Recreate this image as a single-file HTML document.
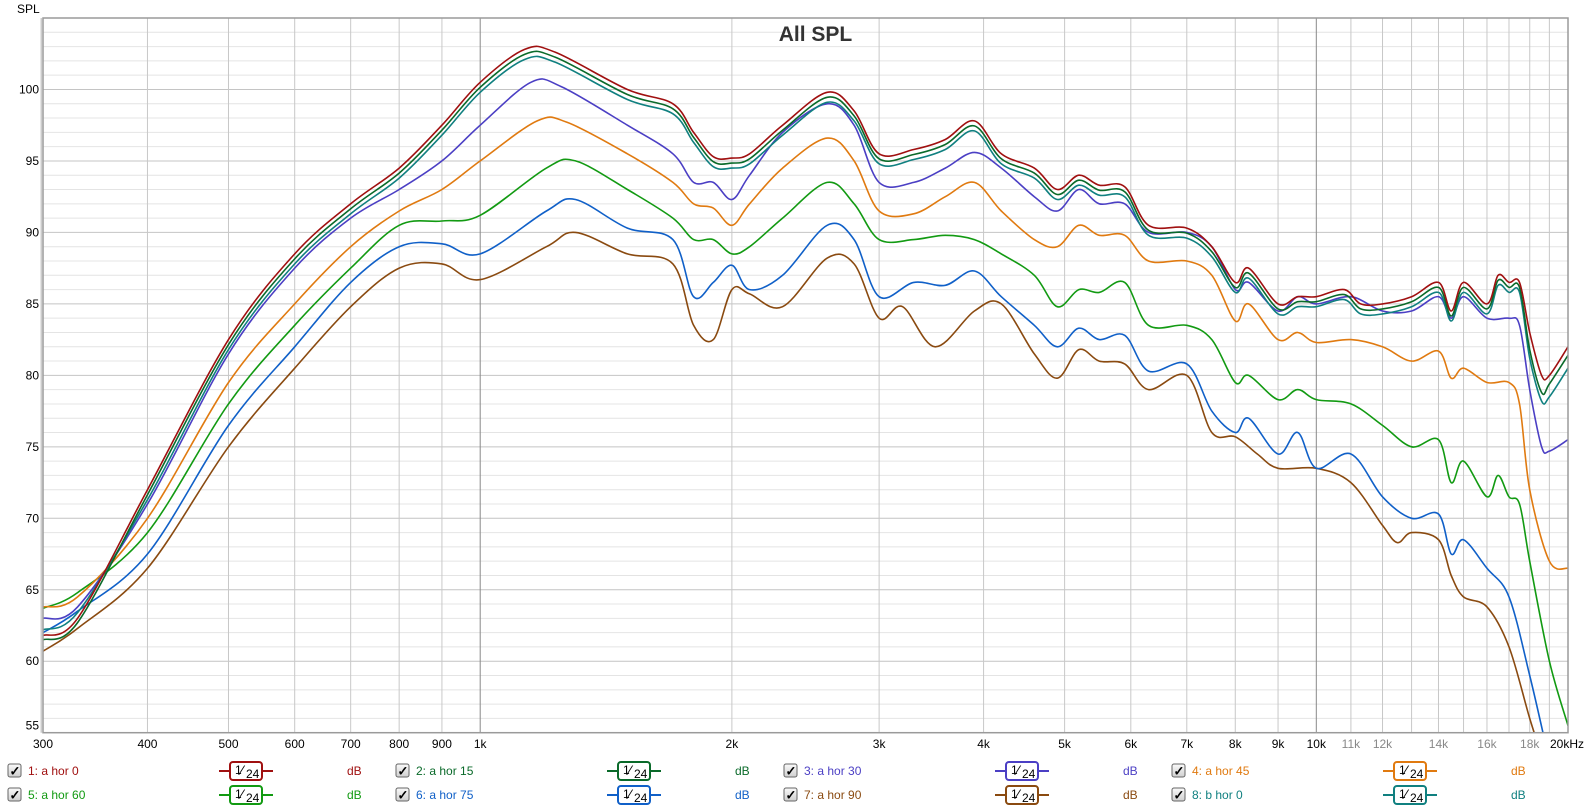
<!DOCTYPE html>
<html><head><meta charset="utf-8">
<style>
html,body{margin:0;padding:0;background:#fff;width:1590px;height:809px;overflow:hidden;font-family:"Liberation Sans",sans-serif;}
svg{position:absolute;left:0;top:0}
</style></head>
<body>
<svg id="s" width="1590" height="809" xmlns="http://www.w3.org/2000/svg" font-family="Liberation Sans, sans-serif"></svg>
<script>
const L=43,R=1568,T=18,B=732.7;
const dec=(R-L)/Math.log10(20000/300);
const X=f=>L+Math.log10(f/300)*dec;
const Y=d=>B-(d-55)*(B-T)/50;
let h='';
h+=`<rect x="${L}" y="${T}" width="${R-L}" height="${B-T}" fill="#fff"/>`;
for(let d=56;d<105;d++){h+=`<line x1="${L}" x2="${R}" y1="${Y(d)}" y2="${Y(d)}" stroke="${d%5==0?'#c4c4c4':'#e4e4e4'}" stroke-width="1"/>`;}
let fs=[];for(let f=400;f<=900;f+=100)fs.push(f);for(let f=1000;f<=19000;f+=1000)fs.push(f);
fs.forEach(f=>{h+=`<line x1="${X(f)}" x2="${X(f)}" y1="${T}" y2="${B}" stroke="${(f==1000||f==10000)?'#888':'#c8c8c8'}" stroke-width="1"/>`;});
const ser=[
['#a01010',[[300,61.8],[330,63],[400,72],[500,82.5],[600,88.5],[700,92],[800,94.5],[900,97.5],[1000,100.5],[1130,102.8],[1230,102.6],[1500,100],[1700,99],[1800,97],[1900,95.3],[2000,95.2],[2100,95.5],[2300,97.5],[2600,99.8],[2800,98.5],[3000,95.5],[3300,95.8],[3600,96.5],[3900,97.8],[4200,95.5],[4600,94.5],[4900,93],[5200,94],[5500,93.3],[5900,93.2],[6300,90.5],[7000,90.3],[7500,89],[8000,86.5],[8300,87.5],[9000,85],[9500,85.5],[10000,85.5],[10800,86],[11300,85],[12000,85],[13000,85.5],[14000,86.5],[14500,84.5],[15000,86.5],[16000,85],[16500,87],[17000,86.5],[17500,86.5],[18000,83],[18600,80],[19000,80],[20000,82]]],
['#4b3fc4',[[300,63],[330,63.8],[400,71],[500,81.5],[600,87.5],[700,91],[800,93],[900,95],[1000,97.5],[1150,100.5],[1250,100.2],[1500,97.5],[1700,95.5],[1800,93.5],[1900,93.5],[2000,92.3],[2100,94],[2300,97],[2600,99],[2800,97.5],[3000,93.5],[3300,93.5],[3600,94.5],[3900,95.6],[4200,94.5],[4600,92.5],[4900,91.5],[5200,93],[5500,92],[5900,92],[6300,90],[7000,90],[7500,89],[8000,86],[8300,86.5],[9000,84.5],[9500,85.5],[10000,85],[11000,85.5],[12000,84.5],[13000,84.5],[14000,85.5],[14500,84],[15000,85.5],[16000,84],[17000,84],[17500,83.5],[18000,79],[18600,75],[19000,74.7],[20000,75.5]]],
['#e07a10',[[300,63.8],[330,64.5],[400,70],[500,79.5],[600,85],[700,89],[800,91.5],[900,93],[1000,95],[1170,97.8],[1270,97.7],[1500,95.5],[1700,93.5],[1800,92],[1900,91.7],[2000,90.5],[2100,92],[2300,94.5],[2600,96.6],[2800,95],[3000,91.5],[3300,91.3],[3600,92.5],[3900,93.5],[4200,91.5],[4600,89.5],[4900,89],[5200,90.5],[5500,89.8],[5900,89.8],[6300,88],[7000,88],[7500,87],[8000,83.8],[8300,85],[9000,82.5],[9500,83],[10000,82.3],[11000,82.5],[12000,82],[13000,81],[14000,81.7],[14500,79.8],[15000,80.5],[16000,79.5],[17000,79.5],[17500,78],[18000,72],[19000,67],[20000,66.5]]],
['#129a12',[[300,63.7],[330,64.8],[400,69],[500,78],[600,83.5],[700,87.5],[800,90.5],[900,90.8],[1000,91.2],[1200,94.5],[1300,95],[1500,93],[1700,91],[1800,89.5],[1900,89.5],[2000,88.5],[2100,89],[2300,91],[2600,93.5],[2800,92],[3000,89.5],[3300,89.5],[3600,89.8],[3900,89.5],[4200,88.5],[4600,87],[4900,84.8],[5200,86],[5500,85.8],[5900,86.5],[6300,83.5],[7000,83.5],[7500,82.5],[8000,79.5],[8300,80],[9000,78.3],[9500,79],[10000,78.3],[11000,78],[12000,76.5],[13000,75],[14000,75.5],[14500,72.5],[15000,74],[16000,71.5],[16500,73],[17000,71.5],[17500,71],[18000,67],[19000,60],[20000,55.5]]],
['#1060c8',[[300,62],[330,63.5],[400,67.5],[500,76.5],[600,82],[700,86.5],[800,89],[900,89.2],[1000,88.5],[1200,91.5],[1300,92.3],[1500,90.3],[1700,89.5],[1800,85.5],[1900,86.5],[2000,87.7],[2100,86],[2300,87],[2600,90.5],[2800,89.5],[3000,85.5],[3300,86.5],[3600,86.3],[3900,87.3],[4200,85.5],[4600,83.5],[4900,82],[5200,83.3],[5500,82.5],[5900,82.8],[6300,80.3],[7000,80.8],[7500,77.5],[8000,76],[8300,77],[9000,74.5],[9500,76],[10000,73.5],[11000,74.5],[12000,71.5],[13000,70],[14000,70.3],[14500,67.5],[15000,68.5],[16000,66.5],[17000,64.5],[18000,59],[19000,53]]],
['#8a4a10',[[300,60.7],[330,62.3],[400,66.5],[500,75],[600,80.5],[700,84.8],[800,87.5],[900,87.8],[1000,86.7],[1200,89],[1300,90],[1500,88.5],[1700,87.8],[1800,83.5],[1900,82.5],[2000,86],[2100,85.7],[2300,84.8],[2600,88.2],[2800,87.8],[3000,84],[3200,84.8],[3500,82],[3900,84.5],[4200,85],[4600,81.5],[4900,79.8],[5200,81.8],[5500,81],[5900,80.8],[6300,79],[7000,80],[7500,76],[8000,75.7],[8500,74.5],[9000,73.5],[10000,73.5],[11000,72.5],[12000,69.5],[12500,68.3],[13000,69],[14000,68.5],[14500,66],[15000,64.5],[16000,63.8],[17000,61],[18000,56],[18700,53]]]
];
const red=ser[0][1];
ser.push(['#0a6a2a',red.map(([f,d])=>[f,f<350?d-0.3:(f>17500?d+(f>=19000?-0.6:-1.2):d-0.35)])]);
ser.push(['#108080',red.map(([f,d])=>[f,f<350?d+0.4:(f>17500?d+(f>=19000?-1.5:-1.8):d-0.7)])]);
function path(pts){
 const p=pts.map(([f,d])=>[X(f),Y(d)]);
 let s=`M${p[0][0].toFixed(1)},${p[0][1].toFixed(1)}`;
 for(let i=0;i<p.length-1;i++){
  const p0=p[i-1]||p[i],p1=p[i],p2=p[i+1],p3=p[i+2]||p2;
  const c1=[p1[0]+(p2[0]-p0[0])/6,p1[1]+(p2[1]-p0[1])/6];
  const c2=[p2[0]-(p3[0]-p1[0])/6,p2[1]-(p3[1]-p1[1])/6];
  s+=`C${c1[0].toFixed(1)},${c1[1].toFixed(1)} ${c2[0].toFixed(1)},${c2[1].toFixed(1)} ${p2[0].toFixed(1)},${p2[1].toFixed(1)}`;
 }
 return s;
}
h+=`<defs><clipPath id="c"><rect x="${L}" y="${T}" width="${R-L}" height="${B-T}"/></clipPath><linearGradient id="g" x1="0" y1="0" x2="0" y2="1"><stop offset="0" stop-color="#fafafa"/><stop offset="1" stop-color="#cfcfcf"/></linearGradient></defs><g clip-path="url(#c)">`;
const order=[5,4,3,2,1,7,6,0];
order.forEach(i=>{h+=`<path d="${path(ser[i][1])}" fill="none" stroke="${ser[i][0]}" stroke-width="1.6"/>`;});
h+='</g>';
h+=`<rect x="${L}" y="${T}" width="${R-L}" height="${B-T}" fill="none" stroke="#9a9a9a" stroke-width="1.5"/>`;
h+=`<line x1="${L-1.5}" y1="${T}" x2="${L-1.5}" y2="${B}" stroke="#ccc" stroke-width="2"/>`;
h+=`<text x="${(L+R)/2+10}" y="41" text-anchor="middle" font-size="21" font-weight="bold" fill="#333">All SPL</text>`;
h+=`<text x="17" y="13" font-size="12" fill="#000">SPL</text>`;
for(let d=55;d<=100;d+=5)h+=`<text x="39" y="${Y(d)+(d==55?-3:4)}" text-anchor="end" font-size="12">${d}</text>`;
const lab=[[300,'300'],[400,'400'],[500,'500'],[600,'600'],[700,'700'],[800,'800'],[900,'900'],[1000,'1k'],[2000,'2k'],[3000,'3k'],[4000,'4k'],[5000,'5k'],[6000,'6k'],[7000,'7k'],[8000,'8k'],[9000,'9k'],[10000,'10k'],[11000,'11k',1],[12000,'12k',1],[14000,'14k',1],[16000,'16k',1],[18000,'18k',1]];
lab.forEach(([f,t,g])=>{h+=`<text x="${X(f)}" y="748" text-anchor="middle" font-size="12" fill="${g?'#888':'#000'}">${t}</text>`;});
h+=`<text x="1567" y="748" text-anchor="middle" font-size="12">20kHz</text>`;
const leg=[['1: a hor 0','#a01010'],['2: a hor 15','#0a6a2a'],['3: a hor 30','#4b3fc4'],['4: a hor 45','#e07a10'],['5: a hor 60','#129a12'],['6: a hor 75','#1060c8'],['7: a hor 90','#8a4a10'],['8: b hor 0','#108080']];
const cols=[8,396,784,1172];
leg.forEach(([t,c],i)=>{
 const x=cols[i%4],y=i<4?771:795;
 h+=`<rect x="${x}" y="${y-7}" width="13" height="13" rx="2" fill="url(#g)" stroke="#666"/><text x="${x+1.5}" y="${y+4.5}" font-size="13" font-weight="bold">✓</text>`;
 h+=`<text x="${x+20}" y="${y+4}" font-size="12" fill="${c}">${t}</text>`;
 h+=`<line x1="${x+211}" x2="${x+265}" y1="${y}" y2="${y}" stroke="${c}" stroke-width="2"/><rect x="${x+222}" y="${y-9}" width="32" height="18" rx="3" fill="#fff" stroke="${c}" stroke-width="2"/>`;
 h+=`<text x="${x+227}" y="${y+3}" font-size="12">1</text><text x="${x+233}" y="${y+4}" font-size="14">⁄</text><text x="${x+238}" y="${y+7}" font-size="12">24</text>`;
 h+=`<text x="${x+339}" y="${y+4}" font-size="12" fill="${c}">dB</text>`;
});
document.getElementById('s').innerHTML=h;
</script>
</body></html>
